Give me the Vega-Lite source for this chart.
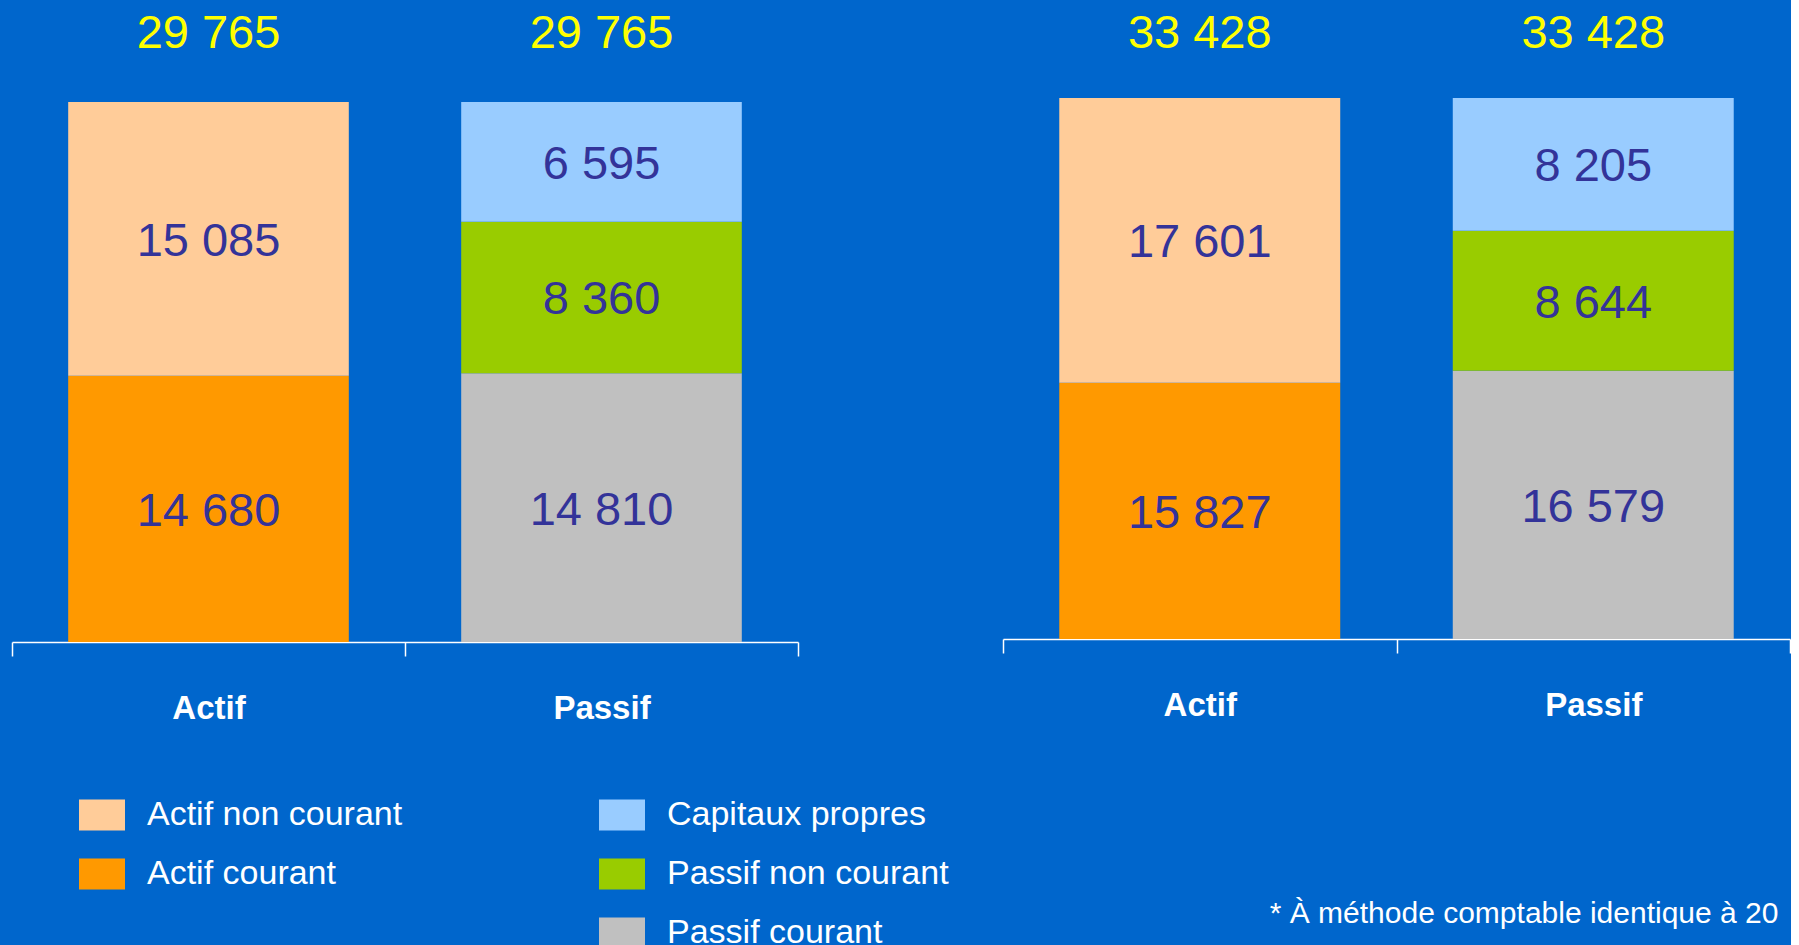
{
  "$schema": "https://vega.github.io/schema/vega-lite/v6.json",
  "background": "#0066CC",
  "padding": {"left": 11, "top": 0, "right": 0, "bottom": 0},
  "config": {
    "view": {"stroke": null},
    "locale": {"number": {"decimal": ",", "thousands": " ", "grouping": [3], "currency": ["", " €"]}},
    "axisX": {
      "title": null, "labelAngle": 0, "grid": false,
      "domainColor": "white", "domainWidth": 1.5,
      "tickColor": "white", "tickWidth": 1.5, "tickSize": 14, "tickBand": "extent",
      "labelFont": "Liberation Sans, Arial, sans-serif", "labelFontWeight": "bold",
      "labelFontSize": 33, "labelColor": "white", "labelPadding": 36
    },
    "legend": {
      "padding": 0,
      "labelFont": "Liberation Sans, Arial, sans-serif", "labelFontSize": 34, "labelColor": "white",
      "labelOffset": 22, "labelLimit": 400,
      "symbolType": "M-1,-0.674L1,-0.674L1,0.674L-1,0.674Z", "symbolSize": 2116,
      "symbolStrokeWidth": 0, "symbolOpacity": 1,
      "rowPadding": 19, "columnPadding": 196
    }
  },
  "datasets": {
    "gauche": [
      {"side": "Actif", "cat": "Actif courant", "value": 14680, "ord": 1},
      {"side": "Actif", "cat": "Actif non courant", "value": 15085, "ord": 2},
      {"side": "Passif", "cat": "Passif courant", "value": 14810, "ord": 1},
      {"side": "Passif", "cat": "Passif non courant", "value": 8360, "ord": 2},
      {"side": "Passif", "cat": "Capitaux propres", "value": 6595, "ord": 3}
    ],
    "droite": [
      {"side": "Actif", "cat": "Actif courant", "value": 15827, "ord": 1},
      {"side": "Actif", "cat": "Actif non courant", "value": 17601, "ord": 2},
      {"side": "Passif", "cat": "Passif courant", "value": 16579, "ord": 1},
      {"side": "Passif", "cat": "Passif non courant", "value": 8644, "ord": 2},
      {"side": "Passif", "cat": "Capitaux propres", "value": 8205, "ord": 3}
    ],
    "note": [
      {"note": "* À méthode comptable identique à 2005"}
    ]
  },
  "spacing": 203,
  "hconcat": [
    {
      "width": 786, "height": 642,
      "data": {"name": "gauche"},
      "encoding": {
        "x": {"field": "side", "type": "nominal", "sort": ["Actif", "Passif"],
              "scale": {"paddingInner": 0, "paddingOuter": 0}}
      },
      "layer": [
        {
          "mark": {"type": "bar", "width": {"band": 0.714}},
          "encoding": {
            "y": {"field": "value", "type": "quantitative", "stack": "zero",
                  "scale": {"domain": [0, 35387], "nice": false, "zero": true}, "axis": null},
            "color": {"field": "cat", "type": "nominal",
              "scale": {
                "domain": ["Actif non courant", "Actif courant", " ", "Capitaux propres", "Passif non courant", "Passif courant"],
                "range": ["#FFCC99", "#FF9900", "rgba(0,0,0,0)", "#99CCFF", "#99CC00", "#C0C0C0"]
              },
              "legend": {"orient": "none", "legendX": 67, "legendY": 792, "columns": 2, "title": null, "direction": "vertical"}
            },
            "order": {"field": "ord", "type": "quantitative"}
          }
        },
        {
          "transform": [
            {"stack": "value", "groupby": ["side"], "sort": [{"field": "ord", "order": "ascending"}], "as": ["v0", "v1"]},
            {"calculate": "(datum.v0 + datum.v1) / 2", "as": "mid"}
          ],
          "mark": {"type": "text", "font": "Liberation Sans, Arial, sans-serif", "fontSize": 47,
                   "color": "#333399", "baseline": "middle", "dy": 3},
          "encoding": {
            "y": {"field": "mid", "type": "quantitative", "scale": {"domain": [0, 35387], "nice": false, "zero": true}, "axis": null},
            "text": {"field": "value", "type": "quantitative", "format": ",d"}
          }
        },
        {
          "transform": [
            {"aggregate": [{"op": "sum", "field": "value", "as": "total"}], "groupby": ["side"]}
          ],
          "mark": {"type": "text", "font": "Liberation Sans, Arial, sans-serif", "fontSize": 47,
                   "color": "#FFFF00", "baseline": "alphabetic", "dy": -54},
          "encoding": {
            "y": {"field": "total", "type": "quantitative", "scale": {"domain": [0, 35387], "nice": false, "zero": true}, "axis": null},
            "text": {"field": "total", "type": "quantitative", "format": ",d"}
          }
        }
      ]
    },
    {
      "width": 787, "height": 639,
      "data": {"name": "droite"},
      "encoding": {
        "x": {"field": "side", "type": "nominal", "sort": ["Actif", "Passif"],
              "scale": {"paddingInner": 0, "paddingOuter": 0}}
      },
      "layer": [
        {
          "mark": {"type": "bar", "width": {"band": 0.714}},
          "encoding": {
            "y": {"field": "value", "type": "quantitative", "stack": "zero",
                  "scale": {"domain": [0, 39484], "nice": false, "zero": true}, "axis": null},
            "color": {"field": "cat", "type": "nominal",
              "scale": {
                "domain": ["Actif non courant", "Actif courant", " ", "Capitaux propres", "Passif non courant", "Passif courant"],
                "range": ["#FFCC99", "#FF9900", "rgba(0,0,0,0)", "#99CCFF", "#99CC00", "#C0C0C0"]
              },
              "legend": {"orient": "none", "legendX": 67, "legendY": 792, "columns": 2, "title": null, "direction": "vertical"}
            },
            "order": {"field": "ord", "type": "quantitative"}
          }
        },
        {
          "transform": [
            {"stack": "value", "groupby": ["side"], "sort": [{"field": "ord", "order": "ascending"}], "as": ["v0", "v1"]},
            {"calculate": "(datum.v0 + datum.v1) / 2", "as": "mid"}
          ],
          "mark": {"type": "text", "font": "Liberation Sans, Arial, sans-serif", "fontSize": 47,
                   "color": "#333399", "baseline": "middle", "dy": 3},
          "encoding": {
            "y": {"field": "mid", "type": "quantitative", "scale": {"domain": [0, 39484], "nice": false, "zero": true}, "axis": null},
            "text": {"field": "value", "type": "quantitative", "format": ",d"}
          }
        },
        {
          "transform": [
            {"aggregate": [{"op": "sum", "field": "value", "as": "total"}], "groupby": ["side"]}
          ],
          "mark": {"type": "text", "font": "Liberation Sans, Arial, sans-serif", "fontSize": 47,
                   "color": "#FFFF00", "baseline": "alphabetic", "dy": -50},
          "encoding": {
            "y": {"field": "total", "type": "quantitative", "scale": {"domain": [0, 39484], "nice": false, "zero": true}, "axis": null},
            "text": {"field": "total", "type": "quantitative", "format": ",d"}
          }
        },
        {
          "data": {"name": "note"},
          "mark": {"type": "text", "font": "Liberation Sans, Arial, sans-serif", "fontSize": 30, "color": "white",
                   "align": "left", "baseline": "alphabetic", "dx": 70, "dy": 284, "limit": 529, "ellipsis": " "},
          "encoding": {
            "x": {"datum": "Actif", "type": "nominal"},
            "y": {"datum": 0, "type": "quantitative", "scale": {"domain": [0, 39484], "nice": false, "zero": true}, "axis": null},
            "text": {"field": "note", "type": "nominal"}
          }
        }
      ]
    }
  ]
}
